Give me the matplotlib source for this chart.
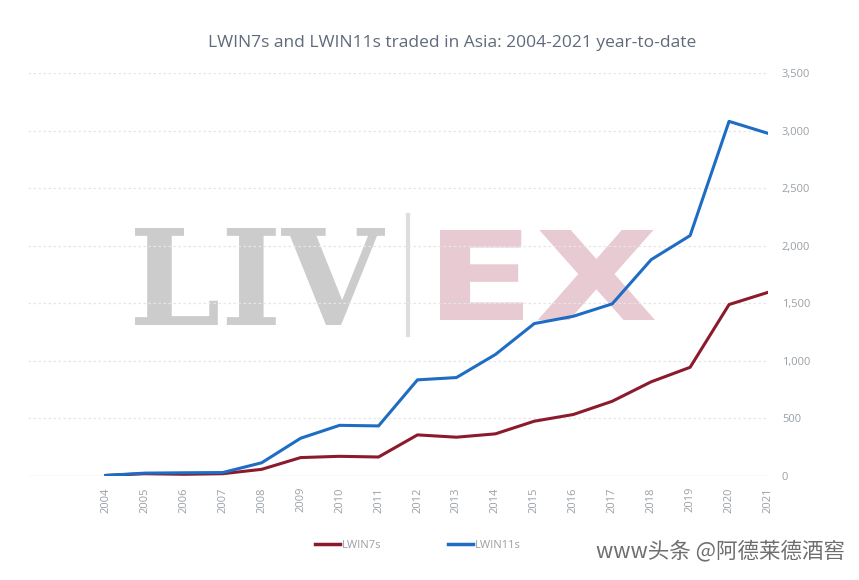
import matplotlib
matplotlib.use("Agg")
import matplotlib.pyplot as plt
from matplotlib.lines import Line2D
from matplotlib.textpath import TextPath
from matplotlib.patches import PathPatch
from matplotlib.font_manager import FontProperties
from matplotlib.transforms import Affine2D

years = [str(y) for y in range(2004, 2022)]
lwin7 = [5, 20, 15, 20, 58, 160, 171, 165, 357, 337, 366, 476, 534, 649, 818, 944, 1489, 1595]
lwin11 = [5, 25, 28, 30, 115, 328, 440, 435, 835, 855, 1055, 1324, 1387, 1495, 1879, 2088, 3080, 2976]
yticks = [0, 500, 1000, 1500, 2000, 2500, 3000, 3500]

RED = "#8a1a2c"
BLUE = "#1f6cc4"
TXT = "#9aa0a6"
W, H = 859, 580

fig = plt.figure(figsize=(W / 100, H / 100), dpi=100)
ax = fig.add_axes([28/W, 1 - 476/H, (768 - 28)/W, (476 - 73)/H])


def watermark(text, box, color, prop):
    tp = TextPath((0, 0), text, size=100, prop=prop)
    ext = tp.get_extents()
    x0, x1, ytop, ybot = box
    sx = (x1 - x0) / ext.width
    sy = (ybot - ytop) / ext.height
    tr = (Affine2D().translate(-ext.x0, -ext.y0).scale(sx, sy)
          .translate(x0, H - ybot))
    patch = PathPatch(tp, transform=tr, facecolor=color, edgecolor="none", zorder=0)
    fig.add_artist(patch)


watermark("LIV", (135, 385, 228, 325), "#cccccc",
          FontProperties(family="DejaVu Serif", weight="bold"))
watermark("EX", (440, 655, 230, 320), "#e7cad2",
          FontProperties(family="DejaVu Sans", weight="bold"))
fig.add_artist(Line2D([408/W, 408/W], [1 - 335/H, 1 - 215/H],
                      color="#dddddd", lw=3, zorder=0))

x = list(range(len(years)))
ax.plot(x, lwin7, color=RED, lw=2.2, zorder=3, solid_joinstyle="round")
ax.plot(x, lwin11, color=BLUE, lw=2.2, zorder=3, solid_joinstyle="round")

ax.set_xlim(-2, 17)
ax.set_ylim(0, 3500)
ax.patch.set_alpha(0)
for s in ax.spines.values():
    s.set_visible(False)
ax.axhline(0, color="#e3e3e3", lw=1, zorder=1)
for v in yticks[1:]:
    ax.axhline(v, color="#e6e6e6", lw=0.9, ls=(0, (2, 2)), zorder=1)

ax.set_xticks(x)
ax.set_xticklabels(years, rotation=90, fontsize=8, color=TXT, family="Open Sans")
ax.tick_params(axis="x", length=0, pad=8)
ax.yaxis.tick_right()
ax.set_yticks(yticks)
ax.set_yticklabels([f"{v:,}" for v in yticks], fontsize=8, color=TXT, family="Open Sans")
ax.tick_params(axis="y", length=0, pad=10)

fig.text(452/W, 1 - 43/H, "LWIN7s and LWIN11s traded in Asia: 2004-2021 year-to-date",
         fontsize=12.5, color="#5f6b7a", ha="center", va="center", family="Open Sans")

handles = [Line2D([], [], color=RED, lw=2.5), Line2D([], [], color=BLUE, lw=2.5)]
leg = fig.legend(handles, ["LWIN7s", "LWIN11s"], loc="center", ncol=2,
                 bbox_to_anchor=(418/W, 1 - 545/H), frameon=False,
                 handlelength=2.2, handletextpad=0.2, columnspacing=6,
                 prop={"family": "Open Sans", "size": 8})
for t in leg.get_texts():
    t.set_color(TXT)

fig.text(845/W, 1 - 551/H, "www头条 @阿德莱德酒窖", fontsize=15.5,
         family=["Noto Sans CJK SC", "DejaVu Sans"], color="#555555",
         ha="right", va="center", alpha=0.85)

fig.savefig("out.png", dpi=100, facecolor="white")
